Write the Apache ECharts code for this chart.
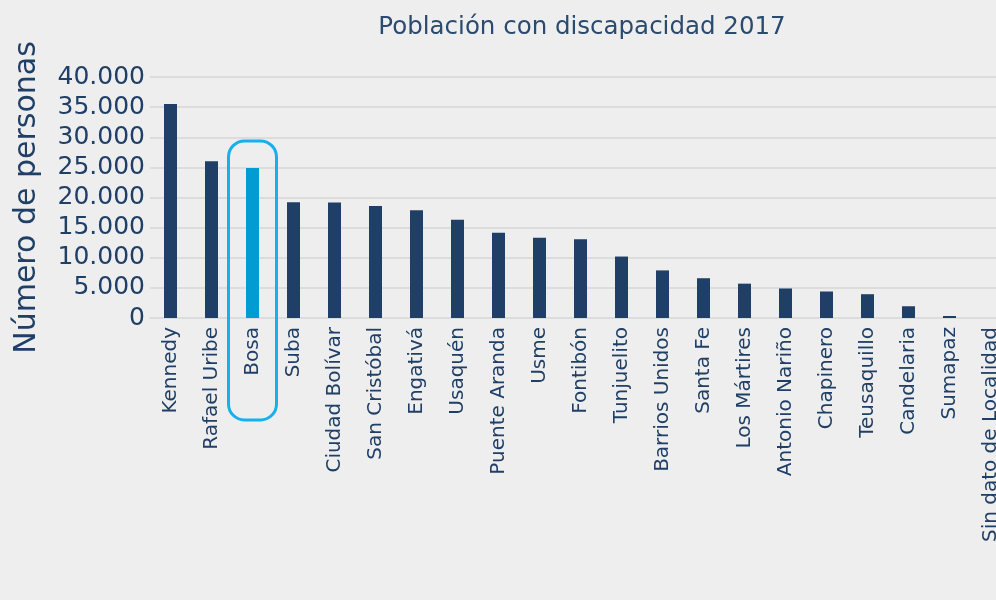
<!DOCTYPE html>
<html>
<head>
<meta charset="utf-8">
<script src="https://cdn.jsdelivr.net/npm/echarts@6/dist/echarts.min.js"></script>
<style>
  html,body{margin:0;padding:0;background:#eeeeee;}
  #chart{width:996px;height:600px;}
</style>
</head>
<body>
<div id="chart"></div>
<script>
//localidades
var localidades = ['Kennedy','Rafael Uribe','Bosa','Suba','Ciudad Bolívar','San Cristóbal','Engativá',
    'Usaquén','Puente Aranda','Usme','Fontibón','Tunjuelito','Barrios Unidos','Santa Fe','Los Mártires',
    'Antonio Nariño','Chapinero','Teusaquillo','Candelaria','Sumapaz','Sin dato de Localidad'];
//personas con discapacidad
var personas = [35500,26000,24900,19200,19150,18600,17900,16300,14150,13300,13050,10200,7900,6600,5700,
    4900,4400,3950,1950,330,0];
var destacada = 'Bosa';
//etiquetas del eje y
var etiquetasY = ['0','5.000','10.000','15.000','20.000','25.000','30.000','35.000','40.000'];

var azul = '#1f3f66',
    celeste = '#009cd3',
    fuente = 'DejaVu Sans';

var chart = echarts.init(document.getElementById('chart'));
chart.setOption({
    backgroundColor:'#eeeeee',
    animation:false,
    title:{
        text:'Población con discapacidad 2017',
        left:577,
        top:10,
        textAlign:'center',
        textStyle:{color:'#2b4a6f',fontFamily:fuente,fontSize:24.5,fontWeight:'normal'}
    },
    grid:{left:150,width:861,top:77,bottom:282,outerBoundsMode:'none'},
    xAxis:{
        type:'category',
        data:localidades,
        axisLine:{show:true,lineStyle:{color:'#dcdcdc',width:2}},
        axisTick:{show:false},
        axisLabel:{
            rotate:90,
            interval:0,
            margin:9,
            color:azul,
            fontFamily:fuente,
            fontSize:20
        }
    },
    yAxis:{
        type:'value',
        min:0,
        max:40000,
        interval:5000,
        name:'Número de personas',
        nameLocation:'middle',
        nameGap:108,
        nameTextStyle:{color:azul,fontFamily:fuente,fontSize:30},
        axisLine:{show:false},
        axisTick:{show:false},
        axisLabel:{
            color:azul,
            fontFamily:fuente,
            fontSize:25,
            margin:5,
            formatter:function(v){ return etiquetasY[Math.round(v/5000)]; }
        },
        splitLine:{lineStyle:{color:'#dcdcdc',width:2}}
    },
    series:[{
        type:'bar',
        barWidth:13,
        data:personas.map(function(v,i){
            return {
                value:v,
                itemStyle:{color:localidades[i]==destacada ? celeste : azul}
            };
        })
    }]
});

//recuadro alrededor de Bosa
var idx = localidades.indexOf(destacada);
var cx = chart.convertToPixel({xAxisIndex:0},destacada),
    yTop = chart.convertToPixel({yAxisIndex:0},personas[idx]) - 27;
chart.setOption({
    graphic:[{
        type:'rect',
        shape:{x:cx-24,y:yTop,width:48,height:420-yTop,r:16},
        style:{fill:'none',stroke:'#17b0ec',lineWidth:3},
        z:10
    }]
});
</script>
</body>
</html>
